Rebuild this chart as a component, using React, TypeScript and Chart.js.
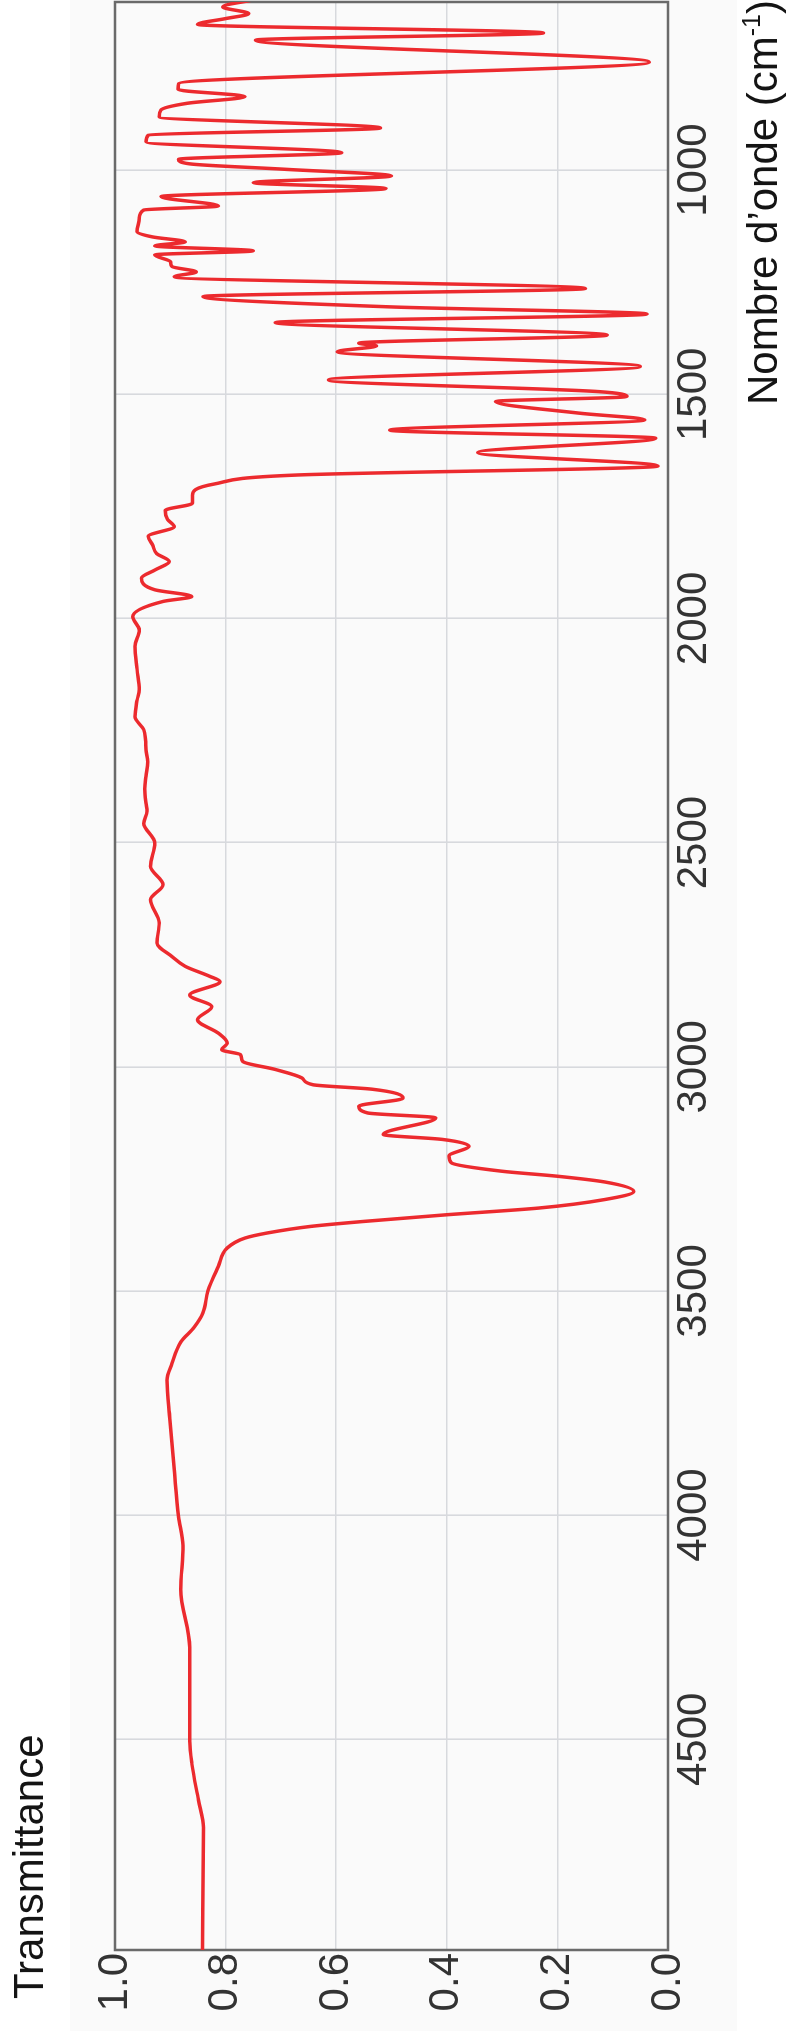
import { useEffect, useRef } from "react";
import { Chart, registerables } from "chart.js";

Chart.register(...registerables);

// Wavenumber (cm-1) of each sampled point of the spectrum
const WAVENUMBER = [
  620, 636, 651, 662, 675, 694, 710, 759, 807, 820, 836, 851, 866, 881, 906, 922, 937, 961, 976, 986,
  998, 1013, 1028, 1041, 1059, 1080, 1089, 1108, 1137, 1149, 1160, 1169, 1180, 1189, 1204, 1215, 1227, 1238,
  1264, 1282, 1305, 1321, 1340, 1368, 1386, 1392, 1405, 1438, 1468, 1494, 1505, 1516, 1542, 1557, 1580,
  1598, 1630, 1660, 1680, 1700, 1725, 1743, 1759, 1779, 1795, 1817, 1836, 1855, 1873, 1892, 1910, 1936,
  1951, 1962, 1996, 2026, 2062, 2114, 2159, 2182, 2219, 2248, 2270, 2293, 2320, 2352, 2380, 2412, 2430,
  2457, 2501, 2553, 2594,
  2627, 2679, 2724, 2754, 2776, 2798, 2810, 2840, 2866, 2895, 2925, 2947, 2962, 2973, 2988, 3006, 3025,
  3040, 3050, 3070, 3088, 3103, 3114, 3151, 3162, 3177, 3199, 3214, 3233, 3244, 3257, 3278, 3296, 3315,
  3330, 3345, 3356, 3371, 3382, 3404, 3445, 3500, 3549, 3581, 3614, 3662, 3699, 3784, 3898, 4003,
  4068, 4166, 4295, 4504, 4555, 4636, 4697, 4980,
];

// Transmittance read at each wavenumber above
const TRANSMITTANCE = [
  0.75, 0.805, 0.758, 0.8, 0.851, 0.225, 0.746, 0.034, 0.885, 0.886, 0.765, 0.87, 0.917, 0.92, 0.52, 0.94, 0.944, 0.59, 0.885, 0.865,
  0.694, 0.5, 0.75, 0.51, 0.917, 0.813, 0.948, 0.956, 0.96, 0.932, 0.873, 0.928, 0.75, 0.928, 0.9, 0.897, 0.853, 0.893,
  0.149, 0.841, 0.503, 0.038, 0.71, 0.11, 0.559, 0.527, 0.598, 0.05, 0.614, 0.126, 0.074, 0.312, 0.161, 0.042, 0.503,
  0.022, 0.344, 0.018, 0.67, 0.82, 0.86, 0.86, 0.909, 0.905, 0.893, 0.94, 0.932, 0.925, 0.902, 0.928, 0.952, 0.928,
  0.861, 0.913, 0.968, 0.956, 0.964, 0.96, 0.956, 0.96, 0.964, 0.948, 0.945, 0.944, 0.941, 0.944, 0.946, 0.944, 0.942,
  0.948, 0.928, 0.936, 0.913,
  0.936, 0.92, 0.924, 0.897, 0.873, 0.829, 0.81, 0.865, 0.825, 0.851, 0.813, 0.797, 0.807, 0.773, 0.769, 0.71, 0.662,
  0.642, 0.535, 0.479, 0.559, 0.543, 0.42, 0.515, 0.408, 0.36, 0.396, 0.392, 0.3, 0.201, 0.114, 0.062, 0.114, 0.233,
  0.4, 0.551, 0.646, 0.726, 0.765, 0.797, 0.813, 0.832, 0.841, 0.857, 0.881, 0.897, 0.906, 0.901, 0.893, 0.885,
  0.877, 0.881, 0.865, 0.865, 0.861, 0.849, 0.84, 0.842,
];

const X_TICKS = [1000, 1500, 2000, 2500, 3000, 3500, 4000, 4500];
const Y_TICKS = [0, 0.2, 0.4, 0.6, 0.8, 1.0];
const X_RANGE = [625, 4970];
const Y_RANGE = [0, 1];

const Y_TITLE = "Transmittance";
const X_TITLE = "Nombre d’onde (cm";
const X_TITLE_SUP = "-1";
const X_TITLE_END = ")";

const FONT = '"Liberation Sans", Arial, Helvetica, sans-serif';

const W = 2031;
const H = 789;

const decorPlugin = {
  id: "decor",
  beforeDraw(chart: any) {
    const { ctx } = chart;
    ctx.save();
    ctx.fillStyle = "#ffffff";
    ctx.fillRect(0, 0, chart.width, chart.height);
    ctx.fillStyle = "#fafafa";
    ctx.fillRect(0, 70, chart.width, 667);
    ctx.restore();
  },
  beforeDatasetsDraw(chart: any) {
    const { ctx, chartArea } = chart;
    ctx.save();
    ctx.strokeStyle = "#6a6a6a";
    ctx.lineWidth = 2.5;
    ctx.strokeRect(
      chartArea.left,
      chartArea.top,
      chartArea.right - chartArea.left,
      chartArea.bottom - chartArea.top
    );
    ctx.restore();
  },
  afterDraw(chart: any) {
    const { ctx } = chart;
    ctx.save();
    ctx.fillStyle = "#141414";
    ctx.textBaseline = "alphabetic";
    ctx.textAlign = "left";
    ctx.font = `42px ${FONT}`;
    ctx.fillText(Y_TITLE, 32, 43);

    // x axis title with superscript, right-aligned near the plot end
    const mainFont = `42px ${FONT}`;
    const supFont = `25px ${FONT}`;
    ctx.font = mainFont;
    const wMain = ctx.measureText(X_TITLE).width;
    const wEnd = ctx.measureText(X_TITLE_END).width;
    ctx.font = supFont;
    const wSup = ctx.measureText(X_TITLE_SUP).width;
    const endX = 2031;
    const startX = endX - (wMain + wSup + wEnd);
    const base = 777;
    ctx.font = mainFont;
    ctx.fillText(X_TITLE, startX, base);
    ctx.font = supFont;
    ctx.fillText(X_TITLE_SUP, startX + wMain, base - 17);
    ctx.font = mainFont;
    ctx.fillText(X_TITLE_END, startX + wMain + wSup, base);
    ctx.restore();
  },
};

function Spectrum() {
  const ref = useRef<HTMLCanvasElement | null>(null);

  useEffect(() => {
    if (!ref.current) return;
    const points = WAVENUMBER.map((x, i) => ({ x, y: TRANSMITTANCE[i] }));
    const chart = new Chart(ref.current, {
      type: "line",
      data: {
        datasets: [
          {
            data: points,
            borderColor: "#ec2a2e",
            borderWidth: 3.5,
            pointRadius: 0,
            fill: false,
            cubicInterpolationMode: "monotone",
          },
        ],
      },
      options: {
        animation: false,
        responsive: false,
        devicePixelRatio: 1,
        events: [],
        layout: { padding: { top: 115, right: 2, bottom: 0, left: 0 } },
        plugins: {
          legend: { display: false },
          tooltip: { enabled: false },
          title: { display: false },
        },
        scales: {
          x: {
            type: "linear",
            reverse: true,
            min: X_RANGE[0],
            max: X_RANGE[1],
            afterBuildTicks: (axis: any) => {
              axis.ticks = X_TICKS.map((value) => ({ value }));
            },
            afterFit: (axis: any) => {
              axis.height = 121;
            },
            border: { display: false },
            grid: { color: "#d7d9dd", lineWidth: 1.6, drawTicks: false },
            ticks: {
              padding: 1,
              color: "#333333",
              font: { family: FONT, size: 42 },
              maxRotation: 0,
              autoSkip: false,
              callback: (v: any) => String(v),
            },
          },
          y: {
            type: "linear",
            min: Y_RANGE[0],
            max: Y_RANGE[1],
            afterBuildTicks: (axis: any) => {
              axis.ticks = Y_TICKS.map((value) => ({ value }));
            },
            afterFit: (axis: any) => {
              axis.width = 81;
            },
            border: { display: false },
            grid: { color: "#d7d9dd", lineWidth: 1.6, drawTicks: false },
            ticks: {
              padding: 3,
              color: "#333333",
              font: { family: FONT, size: 42 },
              autoSkip: false,
              callback: (v: any) => Number(v).toFixed(1),
            },
          },
        },
      },
      plugins: [decorPlugin],
    });
    return () => chart.destroy();
  }, []);

  return (
    <canvas
      ref={ref}
      width={W}
      height={H}
      style={{ display: "block", width: W, height: H }}
    />
  );
}

export default function App() {
  return (
    <div
      style={{
        position: "fixed",
        left: 0,
        top: 0,
        width: H,
        height: W,
        overflow: "hidden",
        background: "#ffffff",
      }}
    >
      <div
        style={{
          position: "absolute",
          left: 0,
          top: 0,
          width: W,
          height: H,
          transformOrigin: "0 0",
          transform: `translateY(${W}px) rotate(-90deg)`,
        }}
      >
        <Spectrum />
      </div>
    </div>
  );
}
